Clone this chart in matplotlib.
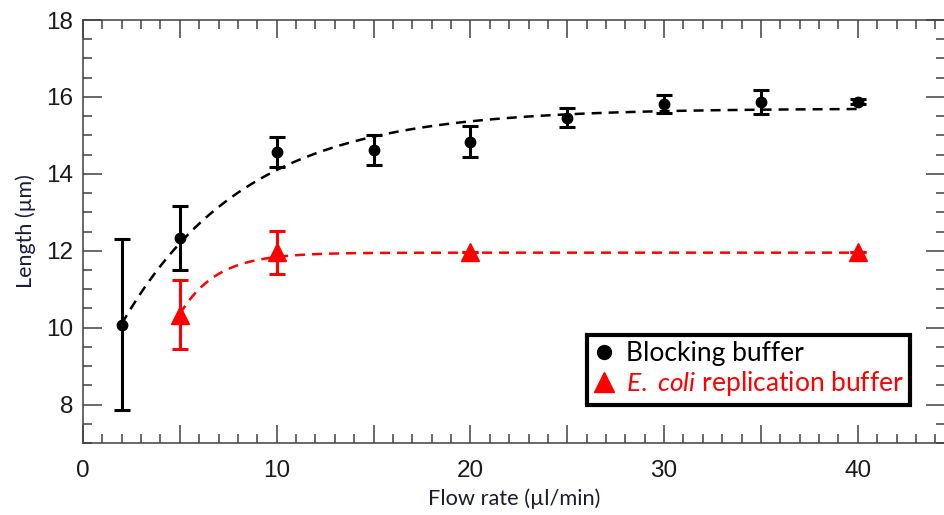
import numpy as np
import matplotlib
matplotlib.use("Agg")
import matplotlib.pyplot as plt
from matplotlib.lines import Line2D
from matplotlib.ticker import MultipleLocator, FuncFormatter

plt.rcParams["font.family"] = ["Liberation Sans", "DejaVu Sans"]
plt.rcParams["mathtext.fontset"] = "custom"
plt.rcParams["mathtext.rm"] = "Lato"
plt.rcParams["mathtext.it"] = "Lato:italic"

# Blocking buffer
flow_black = [2, 5, 10, 15, 20, 25, 30, 35, 40]
length_black = [10.08, 12.34, 14.57, 14.62, 14.84, 15.46, 15.82, 15.86, 15.88]
err_black = [2.22, 0.83, 0.38, 0.38, 0.40, 0.25, 0.24, 0.31, 0.07]

# E. coli replication buffer
flow_red = [5, 10, 20, 40]
length_red = [10.34, 11.96, 11.97, 11.97]
err_red = [0.90, 0.56, 0.0, 0.0]

# exponential fits: plateau - amp * exp(-x / tau)
fit_black = (15.70, 7.66, 6.39)
fit_red = (11.95, 22.9, 1.88)


def fit_curve(x, params):
    plateau, amp, tau = params
    return plateau - amp * np.exp(-x / tau)


fig = plt.figure(figsize=(9.45, 5.15), dpi=100)
ax = fig.add_axes([83 / 945, 1 - 443 / 515, 1 - 83 / 945, (443 - 20) / 515])

xb = np.linspace(flow_black[0], flow_black[-1], 300)
xr = np.linspace(flow_red[0], flow_red[-1], 300)
ax.plot(xb, fit_curve(xb, fit_black), color="black", lw=1.8, ls=(0, (4, 2.8)), zorder=2)
ax.plot(xr, fit_curve(xr, fit_red), color="red", lw=1.8, ls=(0, (4, 2.8)), zorder=2)

ax.errorbar(flow_black, length_black, yerr=err_black, fmt="o", color="black",
            ms=7.5, elinewidth=2.2, capsize=5.5, capthick=2.2, zorder=3)
ax.errorbar(flow_red, length_red, yerr=err_red, fmt="^", color="red",
            ms=13, elinewidth=2.2, capsize=5.5, capthick=2.2, zorder=3)

ax.set_xlim(0, 44.5)
ax.set_ylim(7, 18)

spine_col = "#404040"
for s in ax.spines.values():
    s.set_color(spine_col)
    s.set_linewidth(1.1)

ax.xaxis.set_major_locator(MultipleLocator(5))
ax.xaxis.set_minor_locator(MultipleLocator(1))
ax.xaxis.set_major_formatter(FuncFormatter(lambda v, p: "%d" % v if v % 10 == 0 else ""))
ax.yaxis.set_major_locator(MultipleLocator(2))
ax.yaxis.set_minor_locator(MultipleLocator(0.5))

ax.tick_params(which="both", direction="in", top=True, right=True,
               color=spine_col, width=1.1, labelsize=17.5, labelcolor="#1a1a1a")
ax.tick_params(axis="x", which="major", length=13, pad=12)
ax.tick_params(axis="x", which="minor", length=6.5)
ax.tick_params(axis="y", which="major", length=13.5, pad=7)
ax.tick_params(axis="y", which="minor", length=6.8)

for t in ax.xaxis.get_major_ticks():
    if abs(t.get_loc() % 10) > 1e-6:
        t.tick1line.set_markersize(9.4)
        t.tick2line.set_markersize(9.4)

ax.set_xlabel("Flow rate (µl/min)", fontsize=15.7, family="Lato", color="#1a1a30", labelpad=5)
ax.set_ylabel("Length (µm)", fontsize=15.5, family="Lato", color="#1a1a40", labelpad=7)

handles = [
    Line2D([], [], ls="none", marker="o", color="black", ms=10),
    Line2D([], [], ls="none", marker="^", color="red", ms=14),
]
labels = ["Blocking buffer", "$\\mathit{E.}$ $\\mathit{coli}$ replication buffer"]
leg = ax.legend(handles, labels, loc="lower left", bbox_to_anchor=(0.585, 0.09),
                prop={"family": "Lato", "size": 19}, frameon=True, fancybox=False,
                framealpha=1, edgecolor="black", handlelength=0.8, handletextpad=0.4,
                borderpad=0.25, labelspacing=0.12, borderaxespad=0)
leg.get_frame().set_linewidth(3)
leg.get_texts()[1].set_color("red")

fig.savefig("out.png", dpi=100)
